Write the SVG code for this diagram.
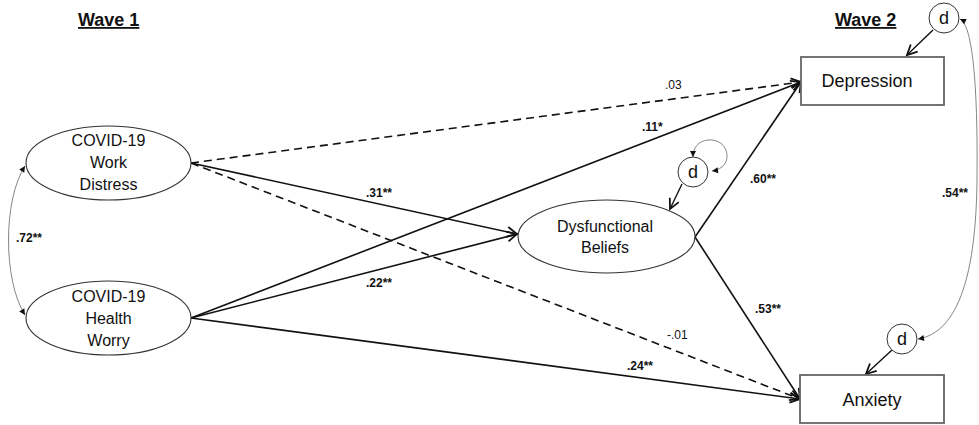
<svg xmlns="http://www.w3.org/2000/svg" width="979" height="425" viewBox="0 0 979 425">
<style>
text{font-family:"Liberation Sans",Arial,sans-serif;fill:#111}
.title{font-size:18px;font-weight:bold;text-decoration:underline}
.node{font-size:16px;text-anchor:middle}
.box{font-size:18px;text-anchor:middle}
.lb{font-size:12px;font-weight:bold}
.lr{font-size:12px}
.d{font-size:18px;text-anchor:middle}
.path{fill:none;stroke:#111;stroke-width:1.6;marker-end:url(#open)}
.dash{stroke-dasharray:8 5}
.cov{fill:none;stroke:#777;stroke-width:0.9;marker-start:url(#fill);marker-end:url(#fill)}
.ell{fill:#fff;stroke:#333;stroke-width:1.1}
.rect{fill:#fff;stroke:#666;stroke-width:1.8}
.circ{fill:#fff;stroke:#333;stroke-width:1}
</style>
<defs>
<marker id="open" markerUnits="userSpaceOnUse" markerWidth="14" markerHeight="14" refX="11" refY="5" orient="auto" overflow="visible">
<path d="M1,0 L11,5 L1,10" fill="none" stroke="#111" stroke-width="1.8"/>
</marker>
<marker id="fill" markerUnits="userSpaceOnUse" markerWidth="8" markerHeight="8" refX="6" refY="3" orient="auto-start-reverse" overflow="visible">
<path d="M0,0 L6,3 L0,6 z" fill="#111"/>
</marker>
</defs>
<rect width="979" height="425" fill="#fff"/>
<text class="title" x="78" y="26">Wave 1</text>
<text class="title" x="835" y="26">Wave 2</text>
<g id="connectors">
<path class="path dash" d="M191,163 L801,82"/>
<path class="path" d="M191,163 L517,234"/>
<path class="path dash" d="M191,163 L800,399"/>
<path class="path" d="M191,318 L801,82"/>
<path class="path" d="M191,318 L517,234"/>
<path class="path" d="M191,318 L800,399"/>
<path class="path" d="M695,237 L801,82"/>
<path class="path" d="M695,237 L800,399"/>
<path class="path" style="stroke-width:1.4" d="M933,30 L907,55"/>
<path class="path" style="stroke-width:1.4" d="M682,184 L670,209"/>
<path class="path" style="stroke-width:1.4" d="M892,350 L866,374"/>
<path class="cov" d="M25,166 C3,200 3,280 25,315"/>
<path class="cov" d="M960,19 C972,25 978,80 977,180 C976,270 960,332 918,339"/>
<path class="cov" d="M712,171 C735,168 730,138 708,140 C698,141 693,148 693,157"/>
</g>
<g id="work-distress">
<ellipse class="ell" cx="108.5" cy="163" rx="82.5" ry="37"/>
<text class="node" x="108.5" y="146">COVID-19</text>
<text class="node" x="108.5" y="168">Work</text>
<text class="node" x="108.5" y="190">Distress</text>
</g>
<g id="health-worry">
<ellipse class="ell" cx="108.5" cy="318" rx="82.5" ry="37"/>
<text class="node" x="108.5" y="302">COVID-19</text>
<text class="node" x="108.5" y="324">Health</text>
<text class="node" x="108.5" y="346">Worry</text>
</g>
<g id="dysfunctional-beliefs">
<ellipse class="ell" cx="606.5" cy="236.5" rx="88.5" ry="36.5"/>
<text class="node" x="605" y="232">Dysfunctional</text>
<text class="node" x="605" y="253">Beliefs</text>
</g>
<g id="depression">
<rect class="rect" x="801" y="57" width="143" height="48"/>
<text class="box" x="867" y="87">Depression</text>
</g>
<g id="anxiety">
<rect class="rect" x="800" y="375" width="144" height="48"/>
<text class="box" x="872" y="406">Anxiety</text>
</g>
<g id="d-depression">
<circle class="circ" cx="944" cy="18" r="15"/>
<text class="d" x="944" y="24">d</text>
</g>
<g id="d-dysfunctional">
<circle class="circ" cx="693" cy="172" r="15"/>
<text class="d" x="693" y="178">d</text>
</g>
<g id="d-anxiety">
<circle class="circ" cx="902" cy="339" r="15"/>
<text class="d" x="902" y="345">d</text>
</g>
<g id="labels">
<text class="lb" x="16" y="242">.72**</text>
<text class="lr" x="665" y="89">.03</text>
<text class="lb" x="642" y="131">.11*</text>
<text class="lb" x="366" y="197">.31**</text>
<text class="lb" x="366" y="287">.22**</text>
<text class="lb" x="750" y="183">.60**</text>
<text class="lb" x="755" y="313">.53**</text>
<text class="lr" x="667" y="339">-.01</text>
<text class="lb" x="627" y="370">.24**</text>
<text class="lb" x="942" y="197">.54**</text>
</g>
</svg>
